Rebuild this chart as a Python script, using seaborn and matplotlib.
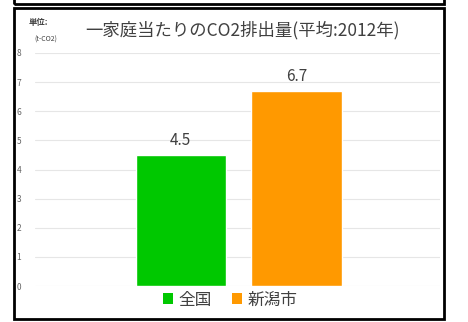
import matplotlib
matplotlib.use("Agg")
import matplotlib.pyplot as plt
import seaborn as sns
import pandas as pd
from matplotlib.patches import Rectangle, Patch

categories = ["全国", "新潟市"]
values = [4.5, 6.7]
colors = ["#00C800", "#FF9900"]
yticks = [0, 1, 2, 3, 4, 5, 6, 7, 8]
title = "一家庭当たりのCO2排出量(平均:2012年)"

sns.set_theme(style="white")
plt.rcParams['font.family'] = ['Noto Sans CJK JP', 'DejaVu Sans']

W, H = 468, 322
fig = plt.figure(figsize=(W / 100, H / 100), dpi=100)
ax = fig.add_axes([35 / W, 36 / H, (440 - 35) / W, (286 - 53) / H])

df = pd.DataFrame({"cat": categories, "val": values})
sns.barplot(data=df, x="cat", y="val", hue="cat", palette=colors,
            width=0.78, legend=False, ax=ax, saturation=1)

ax.set_ylim(0, 8)
ax.set_xlim(-1.26, 2.24)
ax.set_yticks(yticks)
ax.set_yticklabels([str(t) for t in yticks], fontsize=6, color="#666666")
ax.tick_params(axis="y", length=0, pad=10)
ax.set_xticks([])
ax.set_xlabel("")
ax.set_ylabel("")
ax.yaxis.grid(True, color="#e6e6e6", linewidth=0.8)
ax.set_axisbelow(True)
for s in ax.spines.values():
    s.set_visible(False)

for i, v in enumerate(values):
    ax.text(i, v + 0.2, f"{v}", ha="center", va="bottom", fontsize=11, color="#404040")

fig.text(242 / W, 1 - 30 / H, title, ha="center", va="center", fontsize=12.5, color="#404040")
fig.text(29 / W, 1 - 23 / H, "単位:", ha="left", va="center", fontsize=6, color="#404040", weight="bold")
fig.text(34 / W, 1 - 40 / H, "(t-CO2)", ha="left", va="center", fontsize=5, color="#404040")

handles = [Patch(facecolor=c, edgecolor="none") for c in colors]
fig.legend(handles, categories, loc="center", bbox_to_anchor=(230 / W, 1 - 300 / H),
           ncol=2, frameon=False, fontsize=12, handlelength=0.6, handleheight=0.6,
           handletextpad=0.35, columnspacing=1.2, labelcolor="#404040")

# frames
lw = 2
fig.add_artist(Rectangle((13.5 / W, 1 - 3.5 / H), (444 - 13.5) / W, 0.2, transform=fig.transFigure,
                         fill=False, edgecolor="black", linewidth=lw, clip_on=False))
fig.add_artist(Rectangle((13.5 / W, 1 - 319 / H), (444 - 13.5) / W, (319 - 7.5) / H,
                         transform=fig.transFigure, fill=False, edgecolor="black", linewidth=lw))

fig.savefig("out.png", dpi=100)
